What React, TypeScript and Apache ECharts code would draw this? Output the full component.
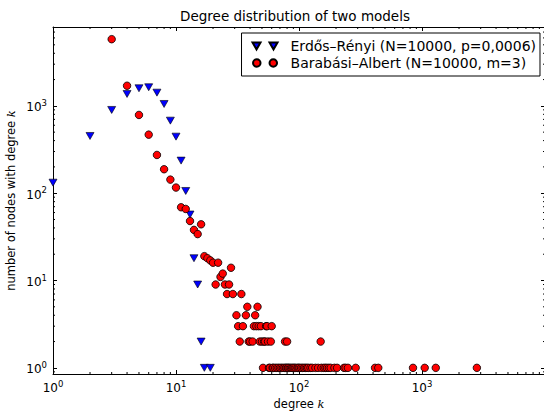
import React, { useEffect, useRef } from 'react';
import * as echarts from 'echarts';

const TITLE = 'Degree distribution of two models';
const ER_NAME = 'Erdős–Rényi (N=10000, p=0,0006)';
const BA_NAME = 'Barabási–Albert (N=10000, m=3)';
const X_NAME_A = 'degree ';
const Y_NAME_A = 'number of nodes with degree ';
const K_SYMBOL = 'k';

// Erdős–Rényi: degree k -> number of nodes
const ER_K = [1, 2, 3, 4, 5, 6, 7, 8, 9, 10, 11, 12, 13, 14, 15, 16, 17, 19];
const ER_N = [132, 452, 898, 1369, 1590, 1633, 1417, 1051, 677, 444, 236, 106, 57, 18, 9, 2, 1, 1];

// Barabási–Albert: low degrees with larger counts
const BA_HEAD_K = [3, 4, 5, 6, 7, 8, 9, 10, 11, 12, 13, 14, 15, 16, 17, 18, 19, 20, 21, 22, 23, 24, 25, 26, 27, 28, 29, 34];
const BA_HEAD_N = [5800, 1700, 787, 468, 274, 188, 143, 116, 69, 66, 48, 38, 34, 44, 19, 18, 17, 16, 9, 16, 11, 12, 9, 7, 9, 14, 7, 7];
// degrees observed with a given (small) node count
const BA_K_COUNT5 = [38, 46];
const BA_K_COUNT4 = [31, 37, 44];
const BA_K_COUNT3 = [32, 35, 43, 45, 47, 49, 54, 55, 60];
const BA_K_COUNT2 = [33, 39, 40, 42, 48, 50, 52, 53, 56, 59, 77, 80, 150];
const BA_K_COUNT1 = [51, 57, 58, 61, 62, 64, 66, 68, 70, 72, 74, 76, 78, 79, 81, 82, 84, 86, 88, 90, 92, 94, 97, 99, 101, 104, 107, 110, 113, 116, 119, 124, 128, 136, 143, 152, 159, 164, 169, 175, 181, 194, 204, 232, 239, 250, 289, 415, 441, 845, 1052, 1294, 2793];

// axis ranges
const X_MIN = 1;
const X_MAX = 10000;
const Y_MIN = 0.85;
const Y_MAX = 8000;
const MINOR_MULT = [2, 3, 4, 5, 6, 7, 8, 9];
const X_DECADES = [1, 10, 100, 1000];
const Y_DECADES = [0.1, 1, 10, 100, 1000];

const FONT = 'DejaVu Sans';

export default function App() {
  const ref = useRef<HTMLDivElement>(null);

  useEffect(() => {
    const chart = echarts.init(ref.current!, null, { renderer: 'svg' });

    const erData = ER_K.map((k, i) => [k, ER_N[i]]);
    const baData: number[][] = BA_HEAD_K.map((k, i) => [k, BA_HEAD_N[i]]);
    BA_K_COUNT5.forEach((k) => baData.push([k, 5]));
    BA_K_COUNT4.forEach((k) => baData.push([k, 4]));
    BA_K_COUNT3.forEach((k) => baData.push([k, 3]));
    BA_K_COUNT2.forEach((k) => baData.push([k, 2]));
    BA_K_COUNT1.forEach((k) => baData.push([k, 1]));

    const xMinor: number[][] = [];
    X_DECADES.forEach((d) => MINOR_MULT.forEach((m) => xMinor.push([m * d, 1])));
    const yMinor: number[][] = [];
    Y_DECADES.forEach((d) => MINOR_MULT.forEach((m) => {
      const v = m * d;
      if (v > Y_MIN && v < Y_MAX) yMinor.push([1, v]);
    }));

    const supFmt = (v: number) => `{b|10}{s|${Math.round(Math.log10(v))}}`;
    const rich = {
      b: { fontFamily: FONT, fontSize: 12, color: '#000', lineHeight: 15, verticalAlign: 'bottom' },
      s: { fontFamily: FONT, fontSize: 8.5, color: '#000', lineHeight: 15, verticalAlign: 'top' },
    };
    const nameRich = {
      a: { fontFamily: FONT, fontSize: 11.5, color: '#000' },
      k: { fontFamily: 'DejaVu Serif', fontStyle: 'italic', fontSize: 11.5, color: '#000' },
    };

    const axisLine = { show: true, onZero: false, lineStyle: { color: '#000', width: 1 } };
    const axisTick = { show: true, inside: true, length: 4, lineStyle: { color: '#000', width: 1 } };

    const TRI_ICON = 'path://M0,0L8,0L4,7ZM17,0L25,0L21,7Z';
    const CIR_ICON = 'path://M0.5,3.75a3.75,3.75 0 1,0 7.5,0a3.75,3.75 0 1,0 -7.5,0ZM17,3.75a3.75,3.75 0 1,0 7.5,0a3.75,3.75 0 1,0 -7.5,0Z';

    chart.setOption({
      animation: false,
      title: {
        text: TITLE,
        left: 290,
        top: 4,
        textAlign: 'center',
        textStyle: { fontFamily: FONT, fontSize: 13.5, fontWeight: 'normal', color: '#000' },
      },
      legend: {
        data: [
          { name: ER_NAME, icon: TRI_ICON },
          { name: BA_NAME, icon: CIR_ICON },
        ],
        orient: 'vertical',
        right: 4,
        top: 33,
        itemWidth: 25,
        itemHeight: 7.5,
        itemGap: 3,
        padding: [6, 4, 6, 10],
        borderColor: '#000',
        borderWidth: 1,
        backgroundColor: '#fff',
        selectedMode: false,
        textStyle: { fontFamily: FONT, fontSize: 14, color: '#000', padding: [0, 0, 0, 8] },
      },
      grid: { left: 53, right: -1, top: 27, bottom: 38, containLabel: false, outerBoundsMode: 'none' },
      xAxis: [
        {
          type: 'log', logBase: 10, min: X_MIN, max: X_MAX, position: 'bottom',
          axisLine, axisTick, splitLine: { show: false },
          axisLabel: { formatter: supFmt, rich, margin: 5, showMaxLabel: false, showMinLabel: true },
          name: `{a|${X_NAME_A}}{k|${K_SYMBOL}}`,
          nameLocation: 'middle', nameGap: 30, nameMoveOverlap: false,
          nameTextStyle: { rich: nameRich, verticalAlign: 'middle' },
        },
        {
          type: 'log', logBase: 10, min: X_MIN, max: X_MAX, position: 'top',
          axisLine, axisTick, splitLine: { show: false }, axisLabel: { show: false },
        },
      ],
      yAxis: [
        {
          type: 'log', logBase: 10, min: Y_MIN, max: Y_MAX, position: 'left',
          axisLine, axisTick, splitLine: { show: false },
          axisLabel: { formatter: supFmt, rich, margin: 6, showMaxLabel: false, showMinLabel: false },
          name: `{a|${Y_NAME_A}}{k|${K_SYMBOL}}`,
          nameLocation: 'middle', nameGap: 42, nameRotate: 90, nameMoveOverlap: false,
          nameTextStyle: { rich: nameRich, verticalAlign: 'middle' },
        },
        {
          type: 'log', logBase: 10, min: Y_MIN, max: Y_MAX, position: 'right',
          axisLine, axisTick, splitLine: { show: false }, axisLabel: { show: false },
        },
      ],
      series: [
        {
          type: 'custom', silent: true, xAxisIndex: 0, yAxisIndex: 0, data: xMinor, z: 1,
          renderItem: (params: any, api: any) => {
            const cs = params.coordSys;
            const x = api.coord([api.value(0), 1])[0];
            const st = { stroke: '#000', lineWidth: 1 };
            return {
              type: 'group', children: [
                { type: 'line', shape: { x1: x, y1: cs.y + cs.height, x2: x, y2: cs.y + cs.height - 2 }, style: st },
                { type: 'line', shape: { x1: x, y1: cs.y, x2: x, y2: cs.y + 2 }, style: st },
              ],
            };
          },
        },
        {
          type: 'custom', silent: true, xAxisIndex: 0, yAxisIndex: 0, data: yMinor, z: 1,
          renderItem: (params: any, api: any) => {
            const cs = params.coordSys;
            const y = api.coord([1, api.value(1)])[1];
            const st = { stroke: '#000', lineWidth: 1 };
            return {
              type: 'group', children: [
                { type: 'line', shape: { x1: cs.x, y1: y, x2: cs.x + 2, y2: y }, style: st },
                { type: 'line', shape: { x1: cs.x + cs.width, y1: y, x2: cs.x + cs.width - 2, y2: y }, style: st },
              ],
            };
          },
        },
        {
          type: 'scatter', name: ER_NAME, data: erData, z: 3,
          symbol: 'triangle', symbolRotate: 180, symbolSize: [8, 7],
          itemStyle: { color: '#0000ff', borderColor: '#000', borderWidth: 0.6, opacity: 1 },
        },
        {
          type: 'scatter', name: BA_NAME, data: baData, z: 4,
          symbol: 'circle', symbolSize: 7.5,
          itemStyle: { color: '#ff0000', borderColor: '#000', borderWidth: 0.8, opacity: 1 },
        },
      ],
    });

    return () => chart.dispose();
  }, []);

  return <div ref={ref} style={{ position: 'absolute', left: 0, top: 0, width: 544, height: 412 }} />;
}
